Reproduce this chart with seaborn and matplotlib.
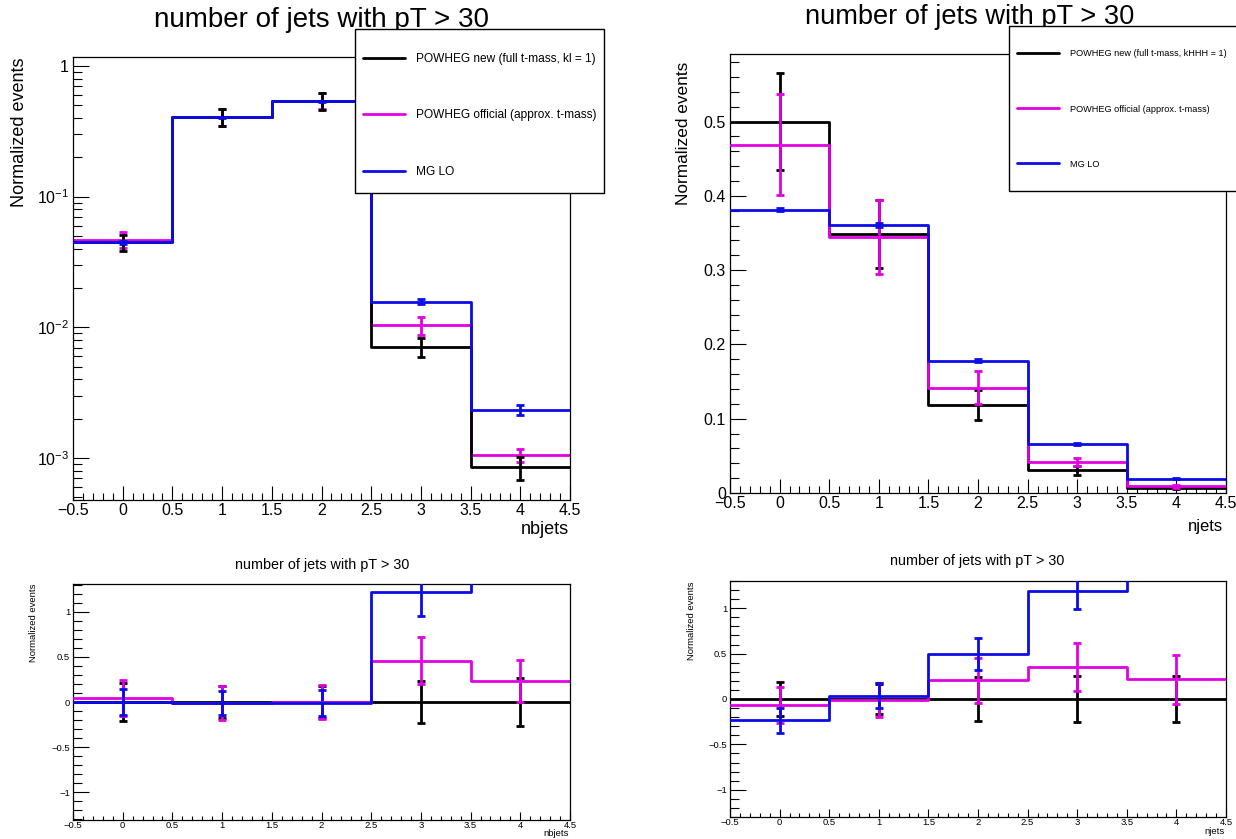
import numpy as np
import pandas as pd
import matplotlib
matplotlib.use("Agg")
import matplotlib.pyplot as plt
from matplotlib.ticker import (MultipleLocator, FixedLocator, FixedFormatter,
                               FuncFormatter, LogLocator, NullFormatter)
from matplotlib.patches import Rectangle
import seaborn as sns

# ---------------------------------------------------------------- data
bin_edges = [-0.5, 0.5, 1.5, 2.5, 3.5, 4.5]
bin_centers = [0, 1, 2, 3, 4]

sample_labels_nb = ["POWHEG new (full t-mass, kl = 1)",
                    "POWHEG official (approx. t-mass)",
                    "MG LO"]
sample_labels_nj = ["POWHEG new (full t-mass, kHHH = 1)",
                    "POWHEG official (approx. t-mass)",
                    "MG LO"]
sample_colors = ["#000000", "#e000e0", "#0c0ce8"]

# number of b-jets, normalized
nb_new = [0.0449, 0.410, 0.543, 0.00708, 0.000854]
nb_new_err = [0.0063, 0.062, 0.082, 0.0012, 0.00017]
nb_off = [0.0467, 0.406, 0.543, 0.01034, 0.001055]
nb_off_err = [0.0066, 0.060, 0.077, 0.0016, 0.00012]
nb_mg = [0.0449, 0.406, 0.538, 0.0157, 0.00233]
nb_mg_err = [0.0012, 0.004, 0.005, 0.0007, 0.0002]

# number of jets, normalized
nj_new = [0.500, 0.349, 0.118, 0.0304, 0.0072]
nj_new_err = [0.065, 0.046, 0.020, 0.006, 0.002]
nj_off = [0.4687, 0.345, 0.142, 0.0415, 0.0088]
nj_off_err = [0.068, 0.050, 0.022, 0.0055, 0.002]
nj_mg = [0.3816, 0.3608, 0.178, 0.0659, 0.0194]
nj_mg_err = [0.002, 0.003, 0.002, 0.001, 0.0008]

# relative difference with respect to POWHEG new
nb_rel_new = [0.0, 0.0, 0.0, 0.0, 0.0]
nb_rel_new_err = [0.21, 0.18, 0.18, 0.23, 0.27]
nb_rel_off = [0.04, -0.01, 0.0, 0.46, 0.235]
nb_rel_off_err = [0.20, 0.19, 0.19, 0.26, 0.235]
nb_rel_mg = [0.0, -0.01, -0.01, 1.22, 1.73]
nb_rel_mg_err = [0.14, 0.13, 0.14, 0.26, 0.30]

nj_rel_new = [0.0, 0.0, 0.0, 0.0, 0.0]
nj_rel_new_err = [0.185, 0.17, 0.24, 0.25, 0.25]
nj_rel_off = [-0.063, -0.01, 0.206, 0.35, 0.22]
nj_rel_off_err = [0.20, 0.19, 0.245, 0.265, 0.27]
nj_rel_mg = [-0.235, 0.037, 0.496, 1.19, 1.69]
nj_rel_mg_err = [0.135, 0.136, 0.18, 0.20, 0.30]

log_ticks = [1e-3, 1e-2, 1e-1, 1.0]
log_tick_labels = [r"$\mathregular{10^{-3}}$", r"$\mathregular{10^{-2}}$",
                   r"$\mathregular{10^{-1}}$", "1"]

title_text = "number of jets with pT > 30"
ylabel_text = "Normalized events"

# ---------------------------------------------------------------- style
sns.set_style("ticks")
plt.rcParams["font.family"] = ["Liberation Sans", "DejaVu Sans"]
plt.rcParams["mathtext.fontset"] = "custom"
plt.rcParams["mathtext.rm"] = "Liberation Sans"
plt.rcParams["mathtext.it"] = "Liberation Sans:italic"
plt.rcParams["axes.unicode_minus"] = True
for key in ["text.color", "axes.labelcolor", "axes.titlecolor",
            "xtick.color", "ytick.color", "axes.edgecolor"]:
    plt.rcParams[key] = "black"

W, H = 1236, 839
fig = plt.figure(figsize=(W / 100, H / 100), dpi=100)
fig.patch.set_facecolor("white")


def rect(left, top, right, bottom):
    return [left / W, 1 - bottom / H, (right - left) / W, (bottom - top) / H]


def num_fmt(v, _pos):
    s = f"{round(v, 6):g}"
    if s == "-0":
        s = "0"
    return s.replace("-", "\u2212")


def draw_sample(ax, vals, errs, color, z, lw=2.0):
    df = pd.DataFrame({"x": bin_centers, "w": vals})
    sns.histplot(data=df, x="x", weights="w", bins=bin_edges, element="step",
                 fill=False, color=color, linewidth=lw, ax=ax, zorder=z)
    line = ax.lines[-1]
    ax.errorbar(bin_centers, vals, yerr=errs, fmt="none", ecolor=color,
                elinewidth=lw, capsize=3, capthick=lw, zorder=z + 0.5)
    return line


def frame(ax, lab_size, xmaj, xmin, ymaj, ymin, xpad, ypad):
    for s in ax.spines.values():
        s.set_visible(True)
        s.set_linewidth(0.9)
        s.set_color("black")
    ax.set_facecolor("white")
    ax.tick_params(axis="both", which="both", direction="in", top=False,
                   right=False, width=0.8, colors="black", labelsize=lab_size)
    ax.tick_params(axis="x", which="major", length=xmaj, pad=xpad)
    ax.tick_params(axis="x", which="minor", length=xmin)
    ax.tick_params(axis="y", which="major", length=ymaj, pad=ypad)
    ax.tick_params(axis="y", which="minor", length=ymin)
    ax.set_xlim(bin_edges[0], bin_edges[-1])
    ax.xaxis.set_major_locator(MultipleLocator(0.5))
    ax.xaxis.set_minor_locator(MultipleLocator(0.1))
    ax.xaxis.set_major_formatter(FuncFormatter(num_fmt))


def to_axes(ax, px, py):
    pos = ax.get_position()
    return ((px / W - pos.x0) / pos.width,
            ((1 - py / H) - pos.y0) / pos.height)


def labels(ax, xlabel, xsize, xlab_xy, ysize, ylab_xy, title_size, title_xy):
    ax.set_xlabel(xlabel, fontsize=xsize)
    ax.xaxis.set_label_coords(*to_axes(ax, *xlab_xy), transform=ax.transAxes)
    ax.xaxis.label.set_ha("right")
    ax.xaxis.label.set_va("center")
    ax.set_ylabel(ylabel_text, fontsize=ysize)
    ax.yaxis.set_label_coords(*to_axes(ax, *ylab_xy), transform=ax.transAxes)
    lab = ax.yaxis.label
    lab.set_rotation_mode("default")
    lab.set_ha("center")
    lab.set_va("top")
    tx, ty = to_axes(ax, *title_xy)
    ax.set_title(title_text, fontsize=title_size, x=tx, y=ty, pad=0,
                 va="center", color="black")


def legend_box(handles, names, box, fs, handlelen, textpad, spacing, first_y):
    left, top, right, bottom = box
    fig.patches.append(Rectangle((left / W, 1 - bottom / H),
                                 (right - left) / W, (bottom - top) / H,
                                 transform=fig.transFigure, facecolor="white",
                                 edgecolor="black", linewidth=1.0, zorder=4))
    leg = fig.legend(handles, names, loc="upper left",
                     bbox_to_anchor=((left + 8) / W, 1 - first_y / H),
                     frameon=False, fontsize=fs, handlelength=handlelen,
                     handletextpad=textpad, labelspacing=spacing,
                     borderpad=0, borderaxespad=0, labelcolor="black")
    leg.set_zorder(5)
    for h in leg.legend_handles:
        h.set_linewidth(2.0)
    return leg


# ---------------------------------------------------------------- top left: nbjets (log)
ax1 = fig.add_axes(rect(73, 57, 570, 500))
h_off = draw_sample(ax1, nb_off, nb_off_err, sample_colors[1], 2)
h_new = draw_sample(ax1, nb_new, nb_new_err, sample_colors[0], 3)
h_mg = draw_sample(ax1, nb_mg, nb_mg_err, sample_colors[2], 4)
frame(ax1, 11.5, 10, 5, 11.5, 6.5, 2.5, 3)
ax1.set_yscale("log")
ax1.set_ylim(4.77e-4, 1.17)
ax1.yaxis.set_major_locator(FixedLocator(log_ticks))
ax1.yaxis.set_major_formatter(FixedFormatter(log_tick_labels))
ax1.yaxis.set_minor_locator(LogLocator(base=10, subs=np.arange(2, 10)))
ax1.yaxis.set_minor_formatter(NullFormatter())
labels(ax1, "nbjets", 13, (569, 530), 13, (19, 57), 20, (322, 20))
legend_box([h_new, h_off, h_mg], sample_labels_nb, (355, 29, 604, 193),
           8.6, 3.55, 0.85, 3.72, 53)

# ---------------------------------------------------------------- top right: njets (linear)
ax2 = fig.add_axes(rect(730, 54, 1226, 493))
g_new = draw_sample(ax2, nj_new, nj_new_err, sample_colors[0], 2)
g_off = draw_sample(ax2, nj_off, nj_off_err, sample_colors[1], 3)
g_mg = draw_sample(ax2, nj_mg, nj_mg_err, sample_colors[2], 4)
frame(ax2, 11.5, 10, 5, 11.5, 6.5, 2.5, 3)
ax2.set_ylim(0, 0.591)
ax2.yaxis.set_major_locator(MultipleLocator(0.1))
ax2.yaxis.set_minor_locator(MultipleLocator(0.02))
ax2.yaxis.set_major_formatter(FuncFormatter(num_fmt))
labels(ax2, "njets", 12, (1223, 527), 12.4, (684, 62), 19.6, (970, 17))
legend_box([g_new, g_off, g_mg], sample_labels_nj, (1009, 26, 1300, 191),
           6.6, 4.55, 1.2, 5.02, 49.5)

# ---------------------------------------------------------------- bottom: relative differences
for box, rel, xlabel, ylim, title_xy, ylab in [
        ((73, 584, 570, 820), (nb_rel_new, nb_rel_new_err, nb_rel_off,
                               nb_rel_off_err, nb_rel_mg, nb_rel_mg_err),
         "nbjets", 1.31, (322, 565), (33, 584)),
        ((730, 581, 1226, 817), (nj_rel_new, nj_rel_new_err, nj_rel_off,
                                 nj_rel_off_err, nj_rel_mg, nj_rel_mg_err),
         "njets", 1.30, (977, 561), (691, 582))]:
    ax = fig.add_axes(rect(*box))
    draw_sample(ax, rel[0], rel[1], sample_colors[0], 2)
    draw_sample(ax, rel[2], rel[3], sample_colors[1], 3)
    draw_sample(ax, rel[4], rel[5], sample_colors[2], 4)
    frame(ax, 6.8, 5.5, 3, 11.5, 6.5, 1.0, 2)
    ax.set_ylim(-ylim, ylim)
    ax.yaxis.set_major_locator(MultipleLocator(0.5))
    ax.yaxis.set_minor_locator(MultipleLocator(0.1))
    ax.yaxis.set_major_formatter(FuncFormatter(num_fmt))
    labels(ax, xlabel, 6.8, (box[2] - 1, box[3] + 14), 6.8, ylab, 10.4,
           title_xy)

fig.savefig("out.png", dpi=100, facecolor="white")
